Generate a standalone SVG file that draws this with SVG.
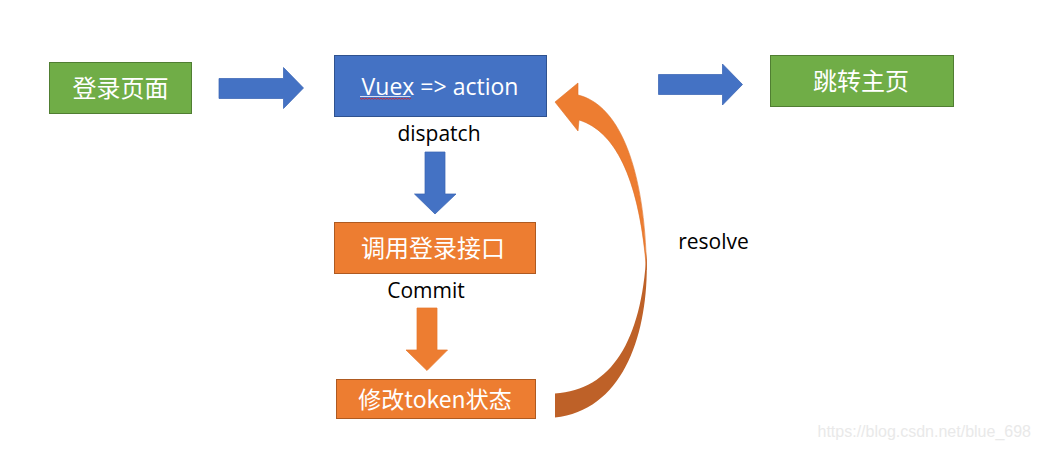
<svg xmlns="http://www.w3.org/2000/svg" width="1042" height="450" viewBox="0 0 1042 450">
<style>
.green{fill:#70AD47;stroke:#507E32;stroke-width:1}
.blue{fill:#4472C4;stroke:#2F528F;stroke-width:1}
.orange{fill:#ED7D31;stroke:#AE5A21;stroke-width:1}
.cjk{font-family:"Noto Sans CJK SC","Noto Sans",sans-serif;font-size:24px;fill:#FFFFFF;text-anchor:middle}
.lat{font-family:"Open Sans","Liberation Sans",sans-serif;font-size:21px;fill:#000000;text-anchor:middle}
.barrow{fill:#4472C4;stroke:#3B66B4;stroke-width:0.75}
.oarrow{fill:#ED7D31;stroke:#E5782E;stroke-width:0.75}
</style>
<rect width="1042" height="450" fill="#FFFFFF"/>
<g id="connectors">
  <polygon class="barrow" points="219,78.5 283.5,78.5 283.5,67.5 303.5,88 283.5,108.5 283.5,98.5 219,98.5"/>
  <polygon class="barrow" points="658.5,74.5 722.5,74.5 722.5,64 742.5,84.5 722.5,105 722.5,94.5 658.5,94.5"/>
  <polygon class="barrow" points="425,152 445,152 445,194 456,194 435,214 414.5,194 425,194"/>
  <polygon class="oarrow" points="417,308 437,308 437,350 447.5,350 427,370.5 406,350 417,350"/>
  <g id="resolve-arrow">
    <path d="M555,102 L578,83 L578,95 C620,105 645,170 646.5,270 C640,185 618,132 579,120 L578,131 Z" fill="#ED7D31" stroke="#DD7029" stroke-width="0.6"/>
    <path d="M646.5,252 C650,330 625,410 555,417.5 L555,393.5 C612,390 642,340 646.5,252 Z" fill="#BE6128"/>
  </g>
  <text class="lat" x="439" y="141">dispatch</text>
  <text class="lat" x="426" y="297.5">Commit</text>
  <text class="lat" x="713.5" y="248.5">resolve</text>
</g>
<g id="node-login">
  <rect class="green" x="49.5" y="62.5" width="142" height="51"/>
  <text class="cjk" x="120.5" y="97">登录页面</text>
</g>
<g id="node-vuex">
  <rect class="blue" x="334.5" y="55.5" width="212" height="61"/>
  <text x="440" y="94.5" font-family="&quot;Open Sans&quot;,&quot;Liberation Sans&quot;,sans-serif" font-size="23" fill="#FFFFFF" text-anchor="middle">Vuex =&gt; action</text>
  <line x1="360" y1="96.5" x2="410.5" y2="96.5" stroke="#FFFFFF" stroke-width="0.8"/>
  <polyline points="360,98 361.5,99.3 363,98 364.5,99.3 366,98 367.5,99.3 369,98 370.5,99.3 372,98 373.5,99.3 375,98 376.5,99.3 378,98 379.5,99.3 381,98 382.5,99.3 384,98 385.5,99.3 387,98 388.5,99.3 390,98 391.5,99.3 393,98 394.5,99.3 396,98 397.5,99.3 399,98 400.5,99.3 402,98 403.5,99.3 405,98 406.5,99.3 408,98 409.5,99.3 411,98" fill="none" stroke="#E02020" stroke-width="0.8"/>
</g>
<g id="node-home">
  <rect class="green" x="770.5" y="55.5" width="183" height="51"/>
  <text class="cjk" x="861" y="90">跳转主页</text>
</g>
<g id="node-api">
  <rect class="orange" x="334.5" y="222.5" width="201" height="51"/>
  <text class="cjk" x="433" y="256.5">调用登录接口</text>
</g>
<g id="node-token">
  <rect class="orange" x="336.5" y="379.5" width="199" height="39"/>
  <text class="cjk" x="435" y="407.5" style="font-size:23px">修改token状态</text>
</g>
<text x="1031" y="437" font-family="&quot;Liberation Sans&quot;,Arial,sans-serif" font-size="16" fill="#E9E9E9" text-anchor="end">https://blog.csdn.net/blue_698</text>
</svg>
